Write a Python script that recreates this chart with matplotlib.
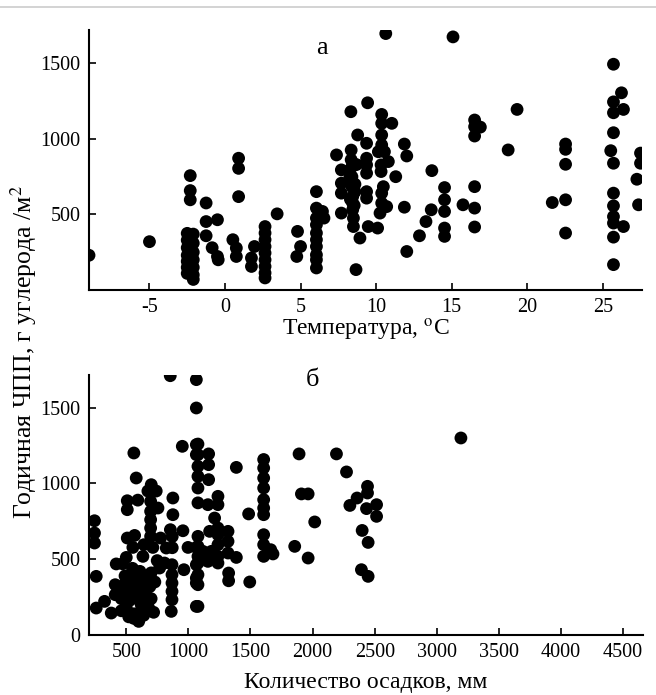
import matplotlib
matplotlib.use("Agg")
import matplotlib.pyplot as plt
from matplotlib.lines import Line2D

plt.rcParams['font.family'] = ['Liberation Serif', 'DejaVu Serif']
plt.rcParams['mathtext.fontset'] = 'stix'
plt.rcParams['axes.unicode_minus'] = False

# panel a: temperature (C) vs annual NPP
temp = [-9.0, -5.0,
        -2.3, -2.3, -2.3, -2.5, -2.5, -2.5, -2.5, -2.5, -2.5, -2.5,
        -2.1, -2.1, -2.1, -2.1, -2.1, -2.1, -2.1,
        -1.25, -1.25, -1.25, -0.5, -0.85, -0.5, -0.45,
        0.9, 0.9, 0.9, 0.52, 0.75, 0.75, 1.75, 1.75, 1.95,
        2.65, 2.65, 2.65, 2.65, 2.65, 2.65, 2.65, 2.65, 2.65, 3.45,
        4.8, 5.0, 4.75,
        6.05, 6.05, 6.05, 6.05, 6.05, 6.05, 6.05, 6.05, 6.05, 6.05, 6.45, 6.55,
        7.38, 7.7, 7.7, 7.7, 7.7,
        8.35, 8.35, 8.4, 8.4, 8.4, 8.45, 8.45, 8.45, 8.5, 8.5, 8.33, 8.78, 8.93, 8.67,
        8.2, 8.6, 8.3, 8.55, 8.6, 8.25, 8.7,
        9.44, 9.37, 9.37, 9.37, 9.37, 9.37, 9.37, 9.48, 10.1,
        10.64, 10.37, 10.37, 11.04, 10.37, 10.37, 10.15, 10.55, 10.33, 10.33, 10.81,
        11.3, 11.87, 12.03, 10.48, 10.37, 10.37, 10.7, 10.26,
        11.87, 12.03, 12.87, 13.3, 13.65, 13.69,
        14.53, 14.53, 14.53, 14.53, 14.53, 15.09, 15.75,
        16.52, 16.52, 16.52, 16.9, 16.52, 16.52, 16.52,
        19.33, 18.74, 22.54, 22.54, 22.54, 22.54, 22.54, 21.66,
        25.71, 25.71, 25.71, 25.71, 25.71, 25.71, 25.71, 25.71, 25.71, 25.71, 25.71, 25.53,
        26.24, 26.37, 26.37, 27.5, 27.5, 27.26, 27.37]
npp_t = [230, 320,
         757, 658, 597, 375, 330, 280, 230, 190, 150, 110,
         370, 310, 250, 200, 150, 100, 70,
         576, 453, 359, 465, 280, 222, 200,
         872, 805, 618, 333, 278, 222, 212, 156, 288,
         420, 377, 333, 288, 245, 200, 156, 113, 80, 504,
         388, 288, 222,
         651, 542, 476, 432, 377, 333, 288, 233, 200, 146, 520, 476,
         894, 795, 707, 641, 509,
         926, 862, 816, 750, 684, 618, 575, 531, 476, 420, 1180, 1026, 344, 135,
         790, 700, 600, 560, 650, 740, 830,
         1239, 971, 872, 828, 773, 651, 608, 420, 410,
         1697, 1162, 1103, 1103, 1026, 960, 915, 915, 828, 784, 850,
         750, 966, 887, 684, 641, 575, 552, 509,
         548, 255, 359, 453, 531, 790,
         678, 597, 520, 410, 355, 1675, 564,
         1125, 1081, 1019, 1078, 684, 542, 417,
         1195, 927, 966, 931, 832, 597, 377, 579,
         1494, 1245, 1173, 1041, 839, 641, 557, 486, 443, 350, 168, 922,
         1305, 1195, 420, 906, 839, 733, 564]

# panel b: precipitation (mm) vs annual NPP
prec = [854, 1064, 1064, 561, 951, 1064, 1064, 580, 701, 674, 741,
        508, 508, 593, 696, 696, 696, 696, 696, 755, 875, 875, 855, 870, 870,
        244, 244, 244, 258, 508, 567, 553, 642, 634, 714, 776, 822, 500, 419,
        956, 964, 997, 1064, 1064, 1064, 1064, 1064,
        868, 868, 868, 868, 868, 862, 768, 808, 749, 258, 325, 379, 411, 411,
        470, 480, 510, 530, 500, 460, 560, 600, 560, 620, 640, 660, 600, 560,
        520, 610, 650, 690, 700, 720, 680, 640, 580, 530, 490, 550, 600, 670,
        700, 730, 620, 520, 460, 440,
        1077, 1077, 1077, 1077, 1077, 1077, 1163, 1163, 1163, 1386,
        1606, 1606, 1606, 1606, 1606, 1606, 1606, 1606, 1606, 1606, 1663, 1681,
        1485, 1494, 1891, 1856, 1910, 1964, 1964,
        1157, 1238, 1238, 1211, 1238, 1171, 1238, 1319, 1319, 1238, 1238, 1238,
        1319, 1386, 1324, 1324, 1157, 1157,
        1077, 1077, 1077, 1077, 1077, 1077, 1077, 1117, 1185,
        2017, 2192, 2273, 2358, 2300, 2442, 2442, 2434, 2515, 2515, 2399, 2447,
        2393, 2447, 3194]
npp_p = [1711, 1685, 1498, 1201, 1245, 1256, 1190, 1036, 992, 950, 950,
         886, 827, 890, 882, 816, 761, 706, 651, 838, 904, 794, 695, 650, 576,
         754, 673, 607, 387, 640, 657, 578, 596, 519, 578, 640, 574, 512, 469,
         688, 431, 578, 578, 464, 376, 343, 189,
         464, 398, 343, 288, 233, 156, 442, 475, 491, 178, 222, 145, 332, 266,
         470, 330, 280, 230, 180, 160, 140, 90, 110, 200, 260, 300, 330, 380,
         350, 420, 370, 320, 240, 150, 180, 130, 250, 300, 390, 440, 280, 220,
         410, 350, 160, 120, 240, 290,
         1260, 1190, 1113, 1047, 970, 872, 1195, 1124, 1025, 1106,
         1158, 1102, 1036, 970, 893, 838, 794, 662, 596, 519, 563, 535,
         799, 350, 1195, 585, 931, 931, 508,
         860, 915, 860, 772, 706, 684, 662, 684, 618, 596, 519, 475,
         541, 512, 409, 358, 530, 486,
         651, 585, 519, 475, 398, 332, 189, 552, 552,
         746, 1195, 1076, 904, 855, 981, 937, 834, 860, 783, 690, 611,
         431, 387, 1300]

fig = plt.figure(figsize=(6.56, 6.95), dpi=100)
ax1 = fig.add_axes([0.1357, 0.5827, 0.843, 0.374])
ax2 = fig.add_axes([0.1357, 0.0863, 0.8445, 0.374])

# thin grey rule along the top edge of the page
fig.add_artist(Line2D([0, 1], [0.99, 0.99], color='#cccccc', lw=1.2))

ax1.scatter(temp, npp_t, s=85, color='black', edgecolors='none')
ax2.scatter(prec, npp_p, s=85, color='black', edgecolors='none')

for ax in (ax1, ax2):
    ax.spines['top'].set_visible(False)
    ax.spines['right'].set_visible(False)
    ax.spines['left'].set_linewidth(1.5)
    ax.spines['bottom'].set_linewidth(1.5)
    ax.tick_params(direction='in', length=5, width=1.2, labelsize=14.5, pad=6)

ax1.set_xlim(-9, 27.6)
ax1.set_ylim(0, 1720)
ax1.set_xticks([-5, 0, 5, 10, 15, 20, 25])
ax1.set_yticks([500, 1000, 1500])
ax1.set_xlabel('Температура, $^{\\mathrm{o}}$C', fontsize=17, labelpad=0)
ax1.text(0.421, 0.93, 'а', transform=ax1.transAxes, fontsize=19,
         ha='center', va='center')

ax2.set_xlim(200, 4660)
ax2.set_ylim(0, 1715)
ax2.set_xticks([500, 1000, 1500, 2000, 2500, 3000, 3500, 4000, 4500])
ax2.set_yticks([0, 500, 1000, 1500])
ax2.set_xlabel('Количество осадков, мм', fontsize=17, labelpad=7)
ax2.text(0.403, 0.98, 'б', transform=ax2.transAxes, fontsize=19,
         ha='center', va='center')

fig.text(0.036, 0.494, 'Годичная ЧПП, г углерода /м$^2$', rotation=90,
         fontsize=18.5, ha='center', va='center')

fig.savefig('out.png', dpi=100)
